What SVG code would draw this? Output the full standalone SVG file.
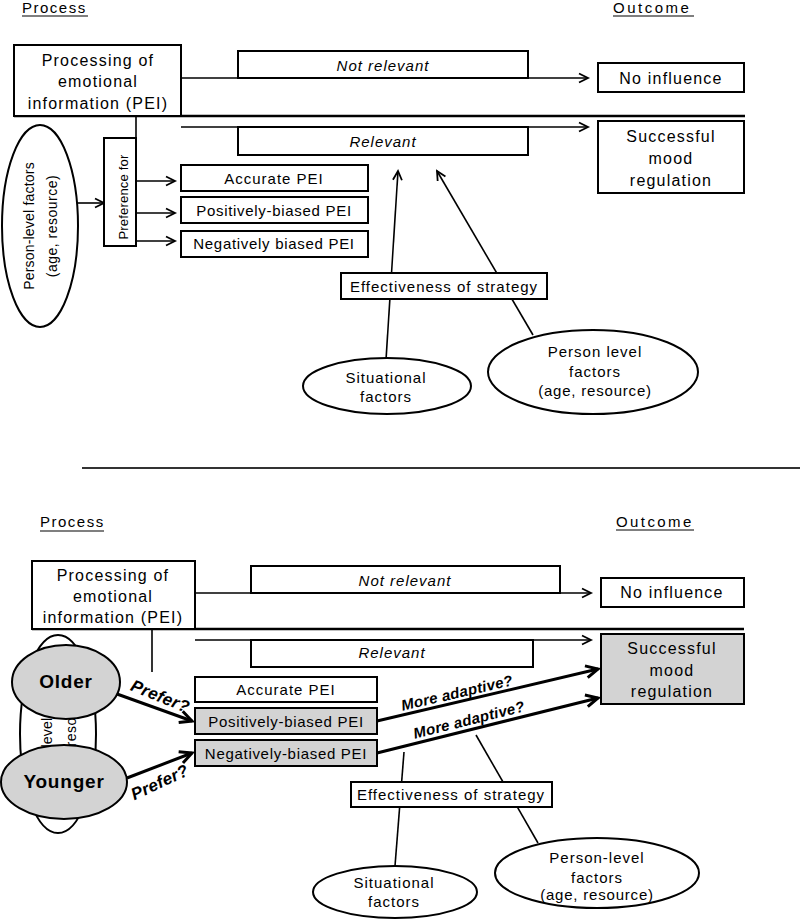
<svg xmlns="http://www.w3.org/2000/svg" width="800" height="921" viewBox="0 0 800 921">
<defs>
<style>
.t{font-family:"Liberation Sans",Arial,sans-serif;font-size:15px;letter-spacing:1px;text-anchor:middle;fill:#000}
.l{font-size:16px;letter-spacing:1.2px}
.i{font-style:italic}
.b{font-weight:bold;font-style:italic;letter-spacing:0.3px}
.hd{font-family:"Liberation Sans",Arial,sans-serif;font-size:15px;letter-spacing:1.5px;fill:#000}
.box{fill:#fff;stroke:#000;stroke-width:2}
.g{fill:#d3d3d3}
.ln{stroke:#000;stroke-width:1.6;fill:none}
.tk{stroke:#000;stroke-width:3;fill:none}
.sep{stroke:#000;stroke-width:2.5}
.ul{stroke:#000;stroke-width:1.2}
</style>
<marker id="arr" markerUnits="userSpaceOnUse" markerWidth="12" markerHeight="12" refX="10" refY="5" orient="auto" overflow="visible">
<path d="M1,0.5 L10,5 L1,9.5" fill="none" stroke="#000" stroke-width="1.8"/>
</marker>
<marker id="arrB" markerUnits="userSpaceOnUse" markerWidth="16" markerHeight="16" refX="13" refY="6.5" orient="auto" overflow="visible">
<path d="M1,0.5 L13,6.5 L1,12.5" fill="none" stroke="#000" stroke-width="3"/>
</marker>
</defs>
<rect width="800" height="921" fill="#fff"/>

<g id="headers">
<text class="hd" x="22" y="13">Process</text>
<line class="ul" x1="22" y1="16" x2="88" y2="16"/>
<text class="hd" x="613" y="13" style="letter-spacing:2.5px">Outcome</text>
<line class="ul" x1="613" y1="16" x2="694" y2="16"/>
<text class="hd" x="40" y="527">Process</text>
<line class="ul" x1="40" y1="531" x2="104" y2="531"/>
<text class="hd" x="616" y="527" style="letter-spacing:2.4px">Outcome</text>
<line class="ul" x1="616" y1="530" x2="694" y2="530"/>
</g>

<g id="connectors">
<line class="ln" x1="181" y1="78" x2="588" y2="78" marker-end="url(#arr)"/>
<line class="sep" x1="14" y1="116" x2="745" y2="116"/>
<line class="ln" x1="181" y1="127" x2="588" y2="127" marker-end="url(#arr)"/>
<line class="ln" x1="136" y1="116" x2="136" y2="138"/>
<line class="ln" x1="78" y1="203" x2="104" y2="203" marker-end="url(#arr)"/>
<line class="ln" x1="136" y1="181" x2="175" y2="181" marker-end="url(#arr)"/>
<line class="ln" x1="136" y1="213" x2="175" y2="213" marker-end="url(#arr)"/>
<line class="ln" x1="136" y1="241" x2="175" y2="241" marker-end="url(#arr)"/>
<line class="ln" x1="386" y1="360" x2="398" y2="171" marker-end="url(#arr)"/>
<line class="ln" x1="533" y1="335" x2="437" y2="171" marker-end="url(#arr)"/>
<line x1="82" y1="468" x2="800" y2="468" stroke="#333" stroke-width="2"/>

<line class="ln" x1="195" y1="593" x2="591" y2="593" marker-end="url(#arr)"/>
<line class="sep" x1="32" y1="629" x2="744" y2="629"/>
<line class="ln" x1="195" y1="640" x2="591" y2="640" marker-end="url(#arr)"/>
<line class="ln" x1="152" y1="629" x2="152" y2="672"/>
<line class="tk" x1="117" y1="694" x2="192" y2="721" marker-end="url(#arrB)"/>
<line class="tk" x1="127" y1="778" x2="192" y2="753" marker-end="url(#arrB)"/>
<line class="tk" x1="377" y1="721" x2="598" y2="669" marker-end="url(#arrB)"/>
<line class="tk" x1="377" y1="753" x2="598" y2="698" marker-end="url(#arrB)"/>
<line class="ln" x1="404" y1="752" x2="395" y2="866"/>
<line class="ln" x1="476" y1="735" x2="538" y2="843"/>
<text class="t b" style="font-size:17px" transform="translate(160,697) rotate(22)" y="5">Prefer?</text>
<text class="t b" style="font-size:17px" transform="translate(160,783) rotate(-25)" y="5">Prefer?</text>
<text class="t b" transform="translate(457,693) rotate(-13)" y="5">More adaptive?</text>
<text class="t b" transform="translate(469,720) rotate(-14)" y="5">More adaptive?</text>
</g>

<g id="pei-top">
<rect class="box" x="14" y="45" width="167" height="71"/>
<text class="t l" x="98" y="66">Processing of</text>
<text class="t l" x="98" y="87">emotional</text>
<text class="t l" x="98" y="109">information (PEI)</text>
</g>
<g id="notrelevant-top">
<rect class="box" x="238" y="51" width="290" height="27"/>
<text class="t i" x="383" y="71">Not relevant</text>
</g>
<g id="noinfluence-top">
<rect class="box" x="598" y="63" width="146" height="29"/>
<text class="t l" x="671" y="84">No influence</text>
</g>
<g id="relevant-top">
<rect class="box" x="238" y="127" width="290" height="28"/>
<text class="t i" x="383" y="147">Relevant</text>
</g>
<g id="success-top">
<rect class="box" x="598" y="121" width="146" height="72"/>
<text class="t l" x="671" y="142">Successful</text>
<text class="t l" x="671" y="164">mood</text>
<text class="t l" x="671" y="186">regulation</text>
</g>
<g id="person-left-top">
<ellipse class="box" cx="40" cy="226" rx="38" ry="101"/>
<text class="t" style="font-size:14px;letter-spacing:0.2px" transform="translate(34,226) rotate(-90)">Person-level factors</text>
<text class="t" style="font-size:14px;letter-spacing:0.5px" transform="translate(57,226) rotate(-90)">(age, resource)</text>
</g>
<g id="preference-top">
<rect class="box" x="104" y="138" width="32" height="108"/>
<text class="t" style="font-size:13px;letter-spacing:0.2px" transform="translate(128,197) rotate(-90)">Preference for</text>
</g>
<g id="accurate-top">
<rect class="box" x="181" y="165" width="187" height="26"/>
<text class="t" x="274" y="184">Accurate PEI</text>
</g>
<g id="positive-top">
<rect class="box" x="181" y="197" width="187" height="26"/>
<text class="t" style="letter-spacing:0.7px" x="274" y="216">Positively-biased PEI</text>
</g>
<g id="negative-top">
<rect class="box" x="181" y="231" width="187" height="26"/>
<text class="t" style="letter-spacing:0.7px" x="274" y="249">Negatively biased PEI</text>
</g>
<g id="effectiveness-top">
<rect class="box" x="341" y="273" width="206" height="26"/>
<text class="t" x="444" y="292">Effectiveness of strategy</text>
</g>
<g id="situational-top">
<ellipse class="box" cx="387" cy="386" rx="84" ry="28"/>
<text class="t" x="386" y="383">Situational</text>
<text class="t" x="386" y="402">factors</text>
</g>
<g id="personlevel-top">
<ellipse class="box" cx="593" cy="372" rx="105" ry="42"/>
<text class="t" x="595" y="357">Person level</text>
<text class="t" x="595" y="377">factors</text>
<text class="t" style="letter-spacing:0.8px" x="595" y="396">(age, resource)</text>
</g>

<g id="pei-bottom">
<rect class="box" x="32" y="561" width="163" height="68"/>
<text class="t l" x="113" y="581">Processing of</text>
<text class="t l" x="113" y="602">emotional</text>
<text class="t l" x="113" y="623">information (PEI)</text>
</g>
<g id="notrelevant-bottom">
<rect class="box" x="251" y="566" width="309" height="27"/>
<text class="t i" x="405" y="586">Not relevant</text>
</g>
<g id="noinfluence-bottom">
<rect class="box" x="601" y="578" width="143" height="29"/>
<text class="t l" x="672" y="598">No influence</text>
</g>
<g id="relevant-bottom">
<rect class="box" x="251" y="640" width="282" height="27"/>
<text class="t i" x="392" y="658">Relevant</text>
</g>
<g id="success-bottom">
<rect class="box g" x="601" y="634" width="143" height="70"/>
<text class="t l" x="672" y="654">Successful</text>
<text class="t l" x="672" y="676">mood</text>
<text class="t l" x="672" y="697">regulation</text>
</g>
<g id="person-left-bottom">
<ellipse class="box" cx="58" cy="734" rx="38" ry="99"/>
<text class="t" style="font-size:14px;letter-spacing:0.2px" transform="translate(52,734) rotate(-90)">Person-level factors</text>
<text class="t" style="font-size:14px;letter-spacing:0.5px" transform="translate(76,734) rotate(-90)">(age, resource)</text>
</g>
<g id="older">
<ellipse class="box g" cx="66" cy="682" rx="54" ry="37"/>
<text class="t" style="font-size:19px;font-weight:bold;letter-spacing:0.8px" x="66" y="688">Older</text>
</g>
<g id="younger">
<ellipse class="box g" cx="64" cy="782" rx="63" ry="37"/>
<text class="t" style="font-size:19px;font-weight:bold;letter-spacing:0.8px" x="64" y="788">Younger</text>
</g>
<g id="accurate-bottom">
<rect class="box" x="195" y="677" width="182" height="25"/>
<text class="t" x="286" y="695">Accurate PEI</text>
</g>
<g id="positive-bottom">
<rect class="box g" x="195" y="708" width="182" height="26"/>
<text class="t" style="letter-spacing:0.7px" x="286" y="727">Positively-biased PEI</text>
</g>
<g id="negative-bottom">
<rect class="box g" x="195" y="740" width="182" height="26"/>
<text class="t" style="letter-spacing:0.7px" x="286" y="759">Negatively-biased PEI</text>
</g>
<g id="effectiveness-bottom">
<rect class="box" x="351" y="782" width="201" height="25"/>
<text class="t" x="451" y="800">Effectiveness of strategy</text>
</g>
<g id="situational-bottom">
<ellipse class="box" cx="395" cy="892" rx="82" ry="26"/>
<text class="t" x="394" y="888">Situational</text>
<text class="t" x="394" y="907">factors</text>
</g>
<g id="personlevel-bottom">
<ellipse class="box" cx="597" cy="873" rx="102" ry="35"/>
<text class="t" x="597" y="863">Person-level</text>
<text class="t" x="597" y="883">factors</text>
<text class="t" style="letter-spacing:0.8px" x="597" y="900">(age, resource)</text>
</g>
</svg>
